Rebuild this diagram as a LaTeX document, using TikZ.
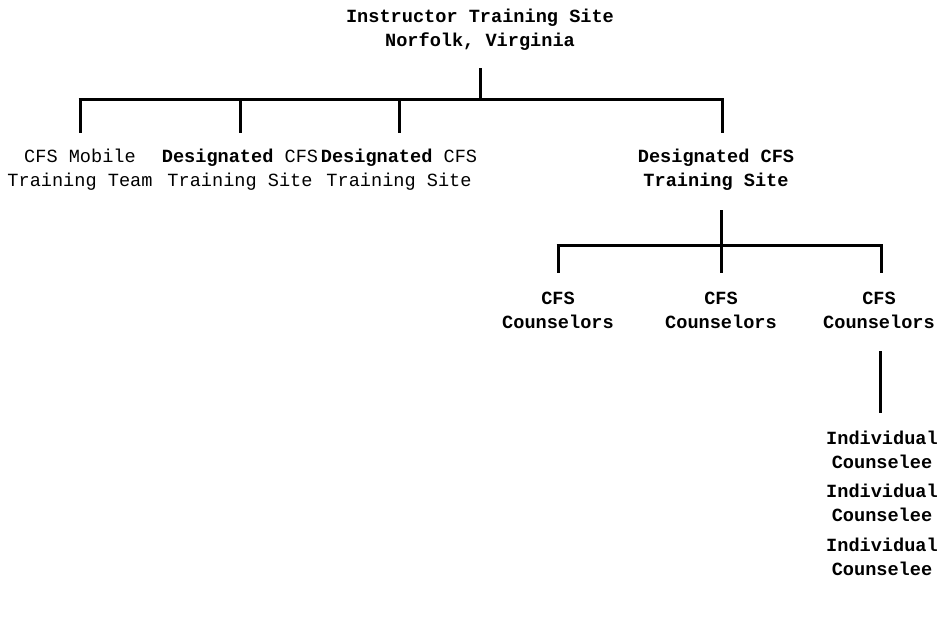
\documentclass[tikz,border=0pt]{standalone}
\usepackage{fontspec}
\setmainfont{Liberation Mono}
\begin{document}
\begin{tikzpicture}[x=1pt,y=1pt,
  lbl/.style={align=center,inner sep=0pt,font=\fontsize{18.6}{24}\selectfont},
  lblb/.style={lbl,font=\fontsize{18.6}{24}\selectfont\bfseries},
  conn/.style={line width=3pt,line cap=butt}]
\useasboundingbox (0,0) rectangle (940,-633);
% nodes
\node[lblb] (top) at (480,-30) {Instructor Training Site\\Norfolk, Virginia};
\node[lbl]  (mob) at (80,-170) {CFS Mobile\\Training Team};
\node[lbl]  (ds1) at (240,-170) {\textbf{Designated} CFS\\Training Site};
\node[lbl]  (ds2) at (399,-170) {\textbf{Designated} CFS\\Training Site};
\node[lblb] (ds3) at (716,-170) {Designated CFS\\Training Site};
\coordinate (j3) at (722,-170);
\node[lblb] (c1) at (558,-310) {CFS\\Counselors};
\node[lblb] (c2) at (721,-310) {CFS\\Counselors};
\node[lblb] (c3) at (879,-310) {CFS\\Counselors};
\coordinate (j4) at (881,-310);
\node[lblb] (i1) at (882,-450) {Individual\\Counselee};
\node[lblb] (i2) at (882,-503) {Individual\\Counselee};
\node[lblb] (i3) at (882,-557) {Individual\\Counselee};
% level 1 connectors
\coordinate (b1) at (480,-99);
\draw[conn] (top |- 0,-68) -- (top |- b1);
\draw[conn] ([xshift=-1.5pt]mob |- b1) -- ([xshift=1.5pt]j3 |- b1);
\draw[conn] (mob |- b1) -- (mob |- 0,-133);
\draw[conn] (ds1 |- b1) -- (ds1 |- 0,-133);
\draw[conn] (ds2 |- b1) -- (ds2 |- 0,-133);
\draw[conn] (j3 |- b1) -- (j3 |- 0,-133);
% level 2 connectors
\coordinate (b2) at (720,-245);
\draw[conn] (c2 |- 0,-210) -- (c2 |- b2);
\draw[conn] ([xshift=-1.5pt]c1 |- b2) -- ([xshift=1.5pt]j4 |- b2);
\draw[conn] (c1 |- b2) -- (c1 |- 0,-273);
\draw[conn] (c2 |- b2) -- (c2 |- 0,-273);
\draw[conn] (j4 |- b2) -- (j4 |- 0,-273);
% level 3 connector
\draw[conn] ([xshift=-1pt]j4 |- 0,-351) -- ([xshift=-1pt]j4 |- 0,-413);
\end{tikzpicture}
\end{document}
